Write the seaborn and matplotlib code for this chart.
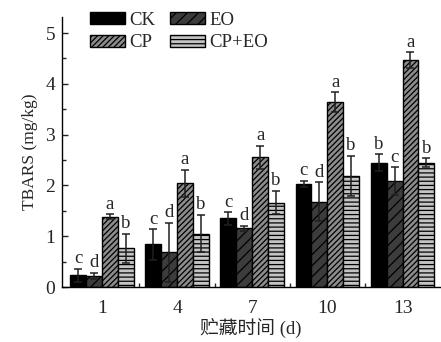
import matplotlib
matplotlib.use('Agg')
import matplotlib.pyplot as plt
import seaborn as sns
import pandas as pd
import numpy as np
from matplotlib.patches import Patch
from matplotlib.ticker import MultipleLocator, FixedLocator

days = ['1', '4', '7', '10', '13']
treatments = ['CK', 'EO', 'CP', 'CP+EO']
ck = [0.23, 0.84, 1.35, 2.03, 2.45]
eo = [0.22, 0.68, 1.16, 1.68, 2.09]
cp = [1.38, 2.04, 2.55, 3.64, 4.47]
cpeo = [0.76, 1.05, 1.66, 2.19, 2.45]
ck_err = [0.13, 0.30, 0.12, 0.06, 0.16]
eo_err = [0.06, 0.58, 0.05, 0.38, 0.27]
cp_err = [0.05, 0.27, 0.23, 0.19, 0.15]
cpeo_err = [0.29, 0.37, 0.23, 0.39, 0.08]
ck_let = ['c', 'c', 'c', 'c', 'b']
eo_let = ['d', 'd', 'd', 'd', 'c']
cp_let = ['a', 'a', 'a', 'a', 'a']
cpeo_let = ['b', 'b', 'b', 'b', 'b']

vals = [ck, eo, cp, cpeo]
errs = [ck_err, eo_err, cp_err, cpeo_err]
lets = [ck_let, eo_let, cp_let, cpeo_let]

rows = []
for t, v in zip(treatments, vals):
    for d, y in zip(days, v):
        rows.append({'day': d, 'trt': t, 'val': y})
df = pd.DataFrame(rows)

sns.set_theme(style='ticks')
plt.rcParams['font.family'] = ['Liberation Serif', 'Noto Sans CJK SC']
plt.rcParams['hatch.linewidth'] = 0.9
plt.rcParams['hatch.color'] = 'black'

faces = ['#000000', '#3c3c3c', '#8c8c8c', '#c4c4c4']
hatches = ['', '///', '//////', '----']

fig = plt.figure(figsize=(4.41, 3.42), dpi=100)
ax = fig.add_axes([0.1406, 0.1608, 0.8574, 0.7902])

sns.barplot(data=df, x='day', y='val', hue='trt', order=days, hue_order=treatments,
            palette=faces, errorbar=None, width=0.845, edgecolor='black',
            linewidth=1.0, legend=False, ax=ax, saturation=1)

bars = [p for p in ax.patches]
for i, t in enumerate(treatments):
    for j in range(len(days)):
        p = bars[i * len(days) + j]
        p.set_hatch(hatches[i])
        p.set_facecolor(faces[i])
        p.set_edgecolor('black')
        x = p.get_x() + p.get_width() / 2
        y = p.get_height()
        e = errs[i][j]
        ax.errorbar(x, y, yerr=e, fmt='none', ecolor='#202020', elinewidth=1.1,
                    capsize=3, capthick=1.1, zorder=5)
        ax.text(x, y + e + 0.03, lets[i][j], ha='center', va='bottom', fontsize=13.5)

ax.set_ylim(0, 5.32)
ax.set_xlim(-0.53, 4.5)
ax.yaxis.set_major_locator(MultipleLocator(1))
ax.yaxis.set_minor_locator(MultipleLocator(0.5))
ax.xaxis.set_minor_locator(FixedLocator([0.5, 1.5, 2.5, 3.5]))
ax.tick_params(axis='both', which='major', direction='in', labelsize=14, length=4, width=1)
ax.tick_params(axis='x', which='major', length=0, pad=9)
ax.tick_params(axis='y', which='major', pad=5)
ax.tick_params(axis='both', which='minor', direction='in', length=3, width=1)
for s in ['top', 'right']:
    ax.spines[s].set_visible(False)
for s in ['left', 'bottom']:
    ax.spines[s].set_linewidth(1.0)
    ax.spines[s].set_color('black')

ax.set_xlabel('贮藏时间 (d)', fontsize=13.5, labelpad=1)
ax.set_ylabel('TBARS (mg/kg)', fontsize=12.5, labelpad=5)

handles = [Patch(facecolor=faces[k], edgecolor='black', hatch=hatches[k], linewidth=1.0)
           for k in [0, 2, 1, 3]]
labels = [treatments[k] for k in [0, 2, 1, 3]]
fig.legend(handles, labels, loc='upper left', bbox_to_anchor=(0.17, 1.01), ncol=2,
           frameon=False, fontsize=13.5, handlelength=1.85, handleheight=0.6,
           handletextpad=0.25, columnspacing=0.8, labelspacing=0.3, borderpad=0.3)

fig.savefig('out.png', dpi=100)
